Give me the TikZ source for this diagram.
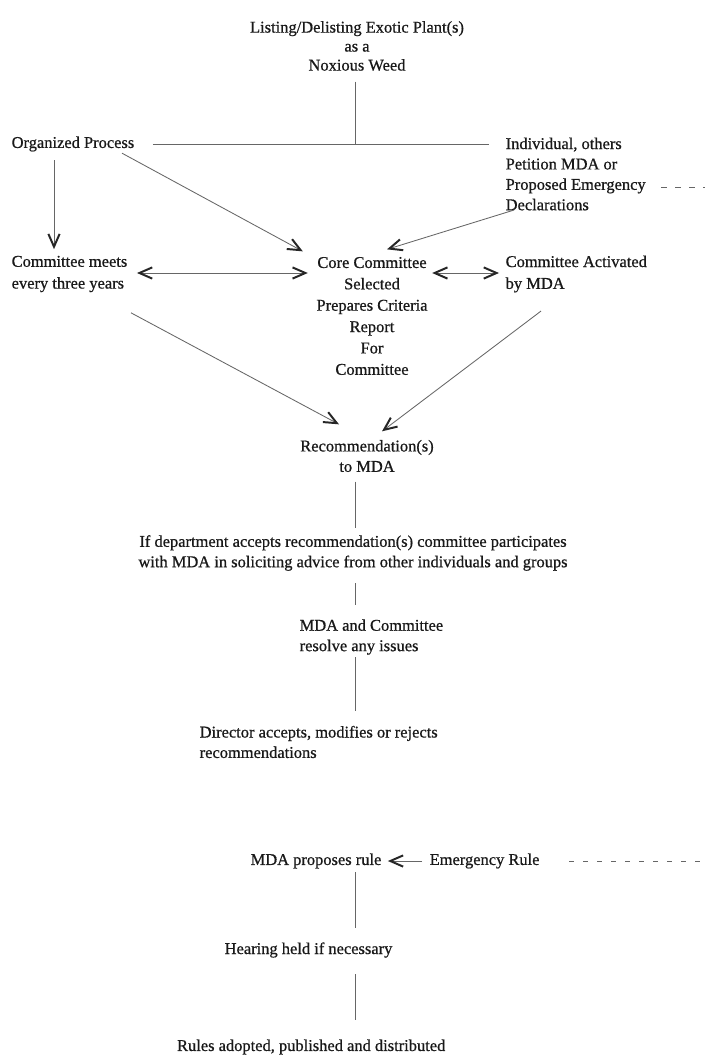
\documentclass[tikz,border=0pt]{standalone}
\usepackage{fontspec}
\setmainfont{Liberation Serif}[FakeBold=0.7]
\usetikzlibrary{calc,arrows.meta}
\tikzset{
	txt/.style={inner sep=1pt, text=black!90, font=\fontsize{11.7}{14.5}\selectfont},
	ltxt/.style={txt, align=left, anchor=west},
	ctxt/.style={txt, align=center},
	line/.style={draw=black!60, line width=0.6pt},
	arr/.style={line, ->},
	dashline/.style={line, dashed, dash pattern=on 1.3mm off 2.2mm},
}
\begin{document}
\begin{tikzpicture}[x=0.025cm, y=-0.025cm, >={Straight Barb[length=3.2mm,width=2.8mm,line width=1.4pt,color=black!85]}]
		\fill[white] (0,0) rectangle (705,1056);
		\useasboundingbox (0,0) rectangle (705,1056);
		\coordinate (axis) at (355,0);
		\node[ctxt, font=\fontsize{11.7}{13.5}\selectfont] at (357,46) (lst) {Listing/Delisting Exotic Plant(s)\\as a\\Noxious Weed};
		\node[ltxt] at (10,144) (op) {Organized Process};
		\node[ltxt] at (504,174) (ind) {Individual, others\\Petition MDA or\\Proposed Emergency\\Declarations};
		\node[ltxt, font=\fontsize{11.7}{15.5}\selectfont] at (10,274) (cm) {Committee meets\\every three years};
		\node[ctxt, font=\fontsize{11.7}{15.2}\selectfont] at (372,316) (cc) {Core Committee\\Selected\\Prepares Criteria\\Report\\For\\Committee};
		\node[ltxt, font=\fontsize{11.7}{15.5}\selectfont] at (504,274) (ca) {Committee Activated\\by MDA};
		\node[ctxt] at (367,456) (rec) {Recommendation(s)\\to MDA};
		\node[ctxt] at (353,553) (dep) {If department accepts recommendation(s) committee participates\\with MDA in soliciting advice from other individuals and groups};
		\node[ltxt] at (298,637) (res) {MDA and Committee\\resolve any issues};
		\node[ltxt] at (198,742) (dir) {Director accepts, modifies or rejects\\recommendations};
		\node[ltxt] at (249,861) (pr) {MDA proposes rule};
		\node[ltxt] at (428,861) (er) {Emergency Rule};
		\node[ltxt] at (223,950) (hh) {Hearing held if necessary};
		\node[txt, anchor=east] at (447,1047) (ra) {Rules adopted, published and distributed};
		% top of the chart
		\draw[line, shorten <=2.25mm] (axis |- lst.south) -- (axis |- op.east);
		\draw[line] ($(op.east)+(17,0)$) -- ($(op.east -| ind.west)+(-15,0)$);
		\draw[arr] ($(op.south west)+(44,7)$) -- ($(cm.north west)+(44,-5)$);
		\draw[arr] ($(op.south east)+(-14,0)$) -- ($(cc.north west)+(-12,-4)$);
		\draw[arr] ($(ind.south west)+(10,-2)$) -- ($(cc.north)+(15,-6)$);
		\draw[line, <->] ($(cm.east)+(8,-1)$) -- ($(cm.east -| cc.west)+(-7,-1)$);
		\draw[line, <->] ($(ca.west -| cc.east)+(3,-1)$) -- ($(ca.west)+(-5,-1)$);
		\draw[arr] ($(cm.south east)+(2,19)$) -- ($(rec.north)+(-28,-14)$);
		\draw[arr] ($(ca.south west)+(37,17)$) -- ($(rec.north)+(15,-7)$);
		\coordinate (edgea) at (705,187);
		\draw[dashline, shorten <=3.5mm] (ind.east |- edgea) -- (edgea);
		% steps down the middle
		\foreach \a/\b/\s/\e in {rec/dep/2mm/1.5mm, dep/res/2.75mm/3.25mm, res/dir/0.25mm/3.25mm, pr/hh/0.5mm/3.25mm, hh/ra/3.75mm/4.5mm}{
			\draw[line, shorten <=\s, shorten >=\e] (axis |- \a.south) -- (axis |- \b.north);
		}
		\draw[arr, shorten <=1.5mm, shorten >=1.2mm] (er.west) -- (pr.east);
		\coordinate (edgeb) at (705,861);
		\draw[dashline, shorten <=7mm] (er.east) -- (edgeb);
\end{tikzpicture}
\end{document}
